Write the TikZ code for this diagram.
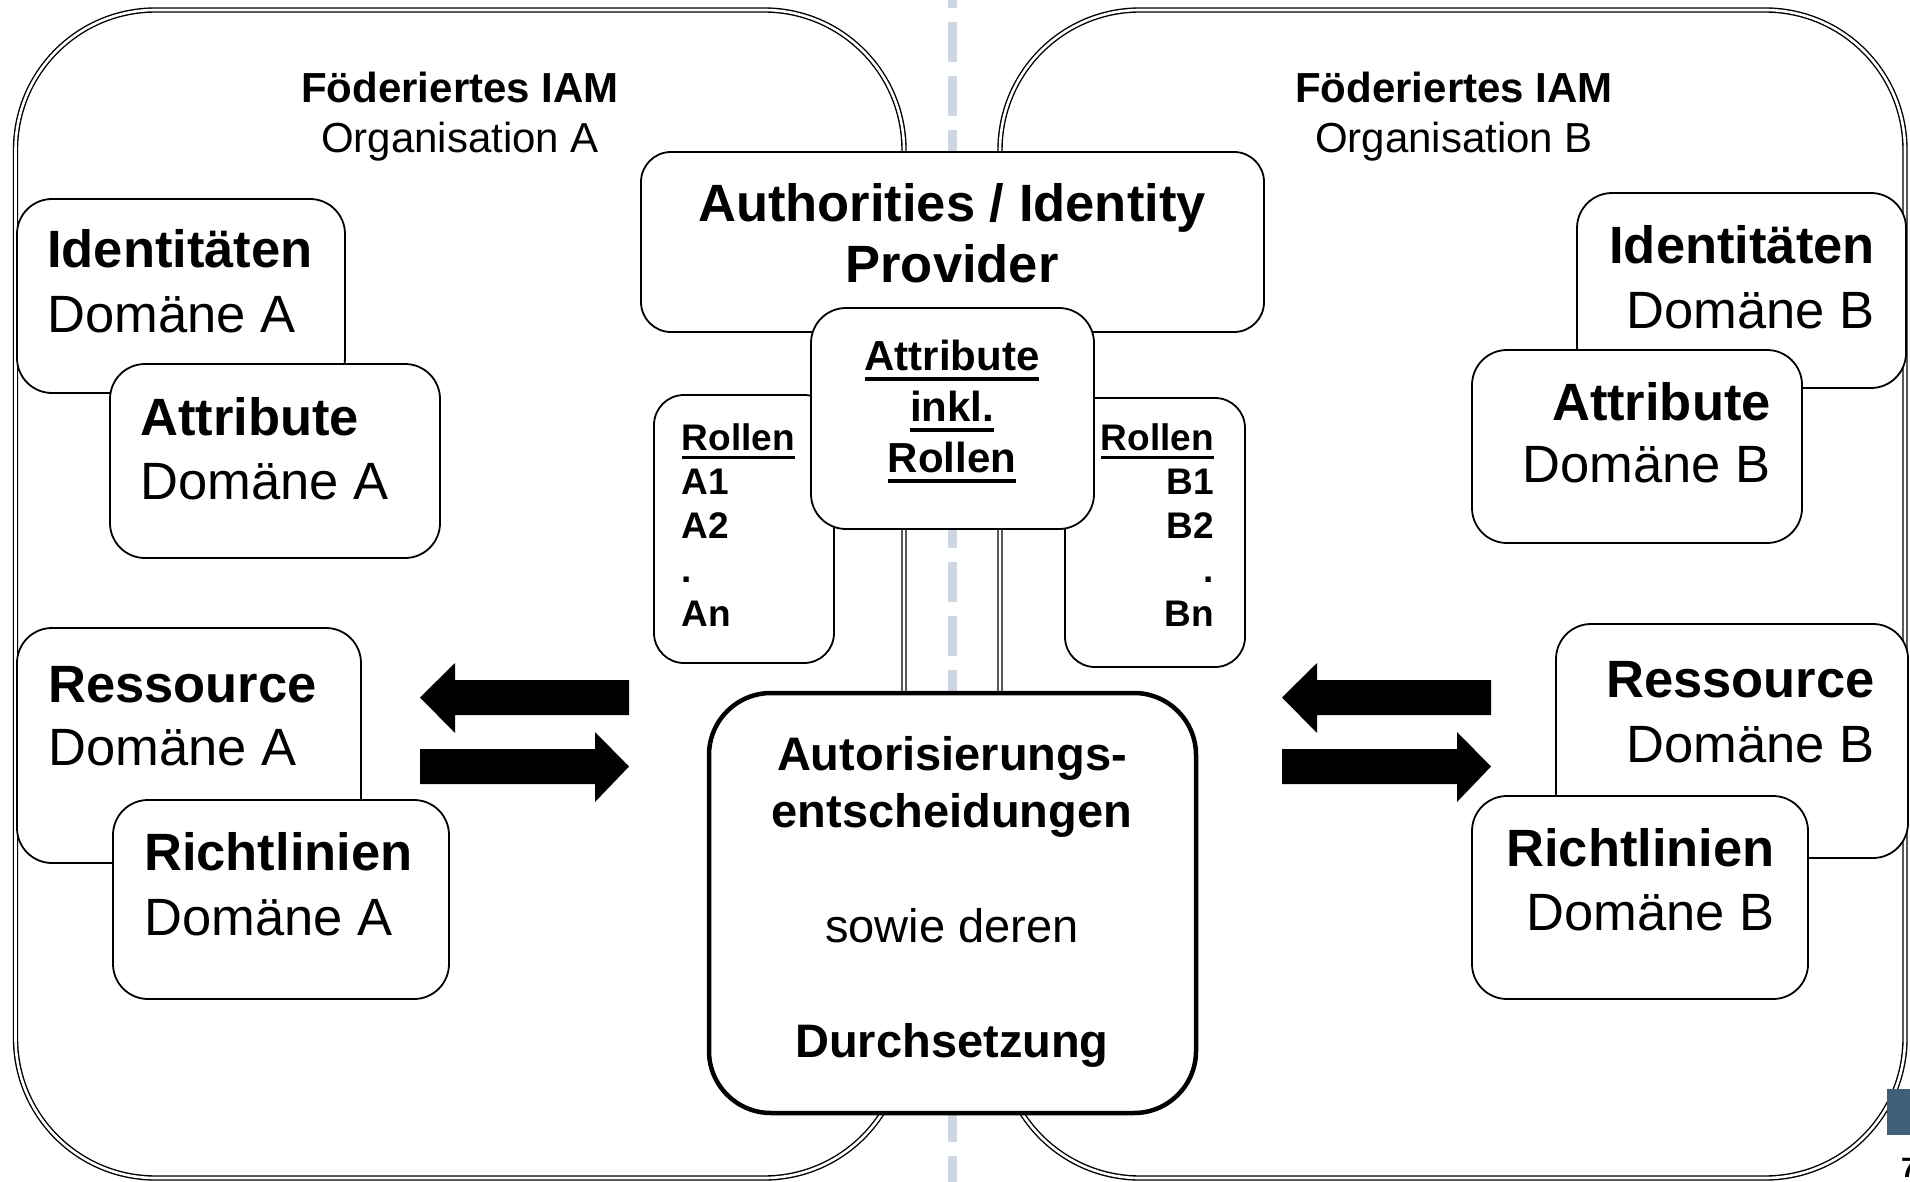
\documentclass[tikz,border=0pt]{standalone}
\usepackage{fontspec}
\setmainfont{Liberation Sans}
\usetikzlibrary{fit}

\definecolor{slate}{RGB}{63,96,122}
\definecolor{divider}{RGB}{206,214,226}

% font size and baseline skip in one go
\newcommand\fs[2]{\fontsize{#1}{#2}\selectfont}
% underline with an explicit offset and thickness
\newcommand\undl[1]{\setbox0\hbox{#1}\rlap{\rule[-0.25em]{\wd0}{0.085em}}\box0}
% multi-line block whose baseline is its first line
\newcommand\blockl[1]{\begin{tabular}[t]{@{}l@{}}#1\end{tabular}}
\newcommand\blockr[1]{\begin{tabular}[t]{@{}r@{}}#1\end{tabular}}
\newcommand\blockc[1]{\begin{tabular}[t]{@{}c@{}}#1\end{tabular}}

\begin{document}
\begin{tikzpicture}[x=1pt,y=-1pt,
  org/.style={draw, line width=1.4pt, double distance=2.6pt, rounded corners=140pt, inner sep=0pt},
  sbox/.style={draw, fill=white, line width=1.8pt, rounded corners=35pt, inner sep=0pt},
  mbox/.style={draw, fill=white, line width=1.8pt, rounded corners=30pt, inner sep=0pt},
  bigbox/.style={draw, fill=white, line width=4.5pt, rounded corners=62pt, inner sep=0pt},
  dom/.style={inner sep=0pt, font=\fs{52.5}{#1}},
  ttl/.style={inner sep=0pt, font=\fs{42}{50}},
  xchg/.pic={
    \fill (209,680) -- (35,680) -- (35,663) -- (0,697.5) -- (35,733) -- (35,715) -- (209,715) -- cycle;
    \fill (0,749) -- (175,749) -- (175,732) -- (209,766.5) -- (175,802) -- (175,784) -- (0,784) -- cycle;
  }]
\useasboundingbox (0,0) rectangle (1910,1182);

% dotted divider between the two organisations
\draw[divider, line width=9pt, dash pattern=on 40pt off 14pt, dash phase=32pt]
  (952,0) coordinate (divtop) -- (952,1182) coordinate (divbot);

% the two federated IAM areas
\node[org, fit={(15.5,10) (904,1178)}] (orgA) {};
\node[org, fit={(1000,10) (1905,1178)}] (orgB) {};

\node[ttl, anchor=base] (titA) at (460,103) {\blockc{\bfseries Föderiertes IAM\\Organisation A}};
\node[ttl, anchor=base] (titB) at (1454,103) {\blockc{\bfseries Föderiertes IAM\\Organisation B}};

% organisation A
\node[sbox, fit={(17,199) (345,393)}] (idA) {};
\node[dom=65, anchor=base west] (idAt) at (47,268) {\blockl{\bfseries Identitäten\\Domäne A}};
\node[sbox, fit={(110,364) (440,558)}] (atA) {};
\node[dom=64, anchor=base west] (atAt) at (140,435) {\blockl{\bfseries Attribute\\Domäne A}};
\node[sbox, fit={(17,628) (361,863)}] (reA) {};
\node[dom=63, anchor=base west] (reAt) at (48,702) {\blockl{\bfseries Ressource\\Domäne A}};
\node[sbox, fit={(113,800) (449,999)}] (riA) {};
\node[dom=65, anchor=base west] (riAt) at (144,870) {\blockl{\bfseries Richtlinien\\Domäne A}};

% organisation B
\node[sbox, fit={(1577,193) (1906,388)}] (idB) {};
\node[dom=65, anchor=base east] (idBt) at (1875,263) {\blockr{\bfseries Identitäten\\Domäne B}};
\node[sbox, fit={(1472,350) (1802,543)}] (atB) {};
\node[dom=62, anchor=base east] (atBt) at (1771,420) {\blockr{\bfseries Attribute\\Domäne B}};
\node[sbox, fit={(1556,624) (1908,858)}] (reB) {};
\node[dom=65, anchor=base east] (reBt) at (1875,697) {\blockr{\bfseries Ressource\\Domäne B}};
\node[sbox, fit={(1472,796) (1808,999)}] (riB) {};
\node[dom=64, anchor=base east] (riBt) at (1775,866) {\blockr{\bfseries Richtlinien\\Domäne B}};

% shared authorities
\node[mbox, fit={(641,152) (1264,332)}] (auth) {};
\node[inner sep=0pt, anchor=base, font=\bfseries\fs{52.5}{61}] (autht) at (952,222)
  {\blockc{Authorities / Identity\\Provider}};

\node[mbox, fit={(654,395) (834,663)}] (rolA) {};
\node[inner sep=0pt, anchor=base west, font=\bfseries\fs{37}{44}] (rolAt) at (681.5,450)
  {\blockl{\undl{Rollen}\\A1\\A2\\.\\An}};
\node[mbox, fit={(1065,398) (1245,667)}] (rolB) {};
\node[inner sep=0pt, anchor=base east, font=\bfseries\fs{37}{44}] (rolBt) at (1214,450)
  {\blockr{\undl{Rollen}\\B1\\B2\\.\\Bn}};

\node[sbox, fit={(811,308) (1094,529)}] (attr) {};
\node[inner sep=0pt, anchor=base, font=\bfseries\fs{42}{51}] (attrt) at (952,370)
  {\blockc{\undl{Attribute}\\\undl{inkl.}\\\undl{Rollen}}};

% authorisation decisions
\node[bigbox, fit={(709,693) (1196,1113)}] (dec) {};
\node[inner sep=0pt, anchor=base, font=\fs{47}{57.5}] (dect) at (952,770)
  {\blockc{\bfseries Autorisierungs-\\\bfseries entscheidungen\\ \\sowie deren\\ \\\bfseries Durchsetzung}};

% request / response arrows on both sides
\pic (xA) at (420,0) {xchg};
\pic (xB) at (1282,0) {xchg};

% page marker
\fill[slate] (1887,1089) rectangle (1916,1135);
\node[inner sep=0pt, anchor=base west, font=\bfseries\fs{28}{30}] (pg) at (1901,1177) {7};
\end{tikzpicture}
\end{document}
